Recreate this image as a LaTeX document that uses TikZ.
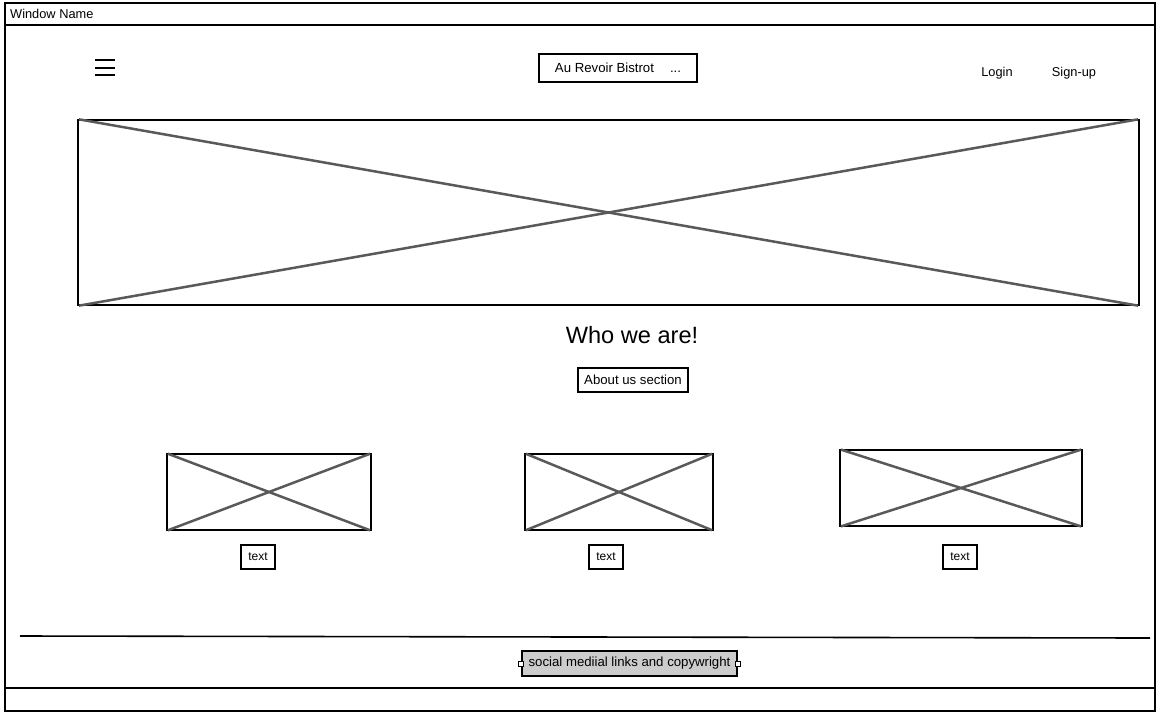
\documentclass[tikz,border=0pt]{standalone}
\usepackage{fontspec}
\setmainfont{Liberation Sans}
\definecolor{xgray}{HTML}{595959}
\definecolor{footfill}{HTML}{CCCCCC}
\begin{document}
\begin{tikzpicture}[x=1pt,y=-1pt,
  frame/.style={draw=black, line width=2pt},
  box/.style={draw=black, line width=2pt, inner sep=0pt, fill=white, font=\fontsize{13.2}{15}\selectfont},
  img/.style={draw=black, line width=2pt, inner sep=0pt},
  cross/.style={draw=xgray, line width=2.5pt, shorten >=2pt, shorten <=2pt},
  lbl/.style={inner sep=0pt, font=\fontsize{12.8}{15}\selectfont},
  handle/.style={draw=black, fill=white, line width=0.8pt, minimum size=5pt, inner sep=0pt}
]
\useasboundingbox (0,0) rectangle (1164,718);
% window frame
\node[frame, minimum width=1150pt, minimum height=708pt, inner sep=0pt] (win) at (580,357) {};
\coordinate (tbl) at (5,25);
\coordinate (tbr) at (1155,25);
\draw[frame] (tbl) -- (tbr);
\coordinate (bbl) at (5,688);
\coordinate (bbr) at (1155,688);
\draw[frame] (bbl) -- (bbr);
\node[lbl, anchor=west] (wname) at (10,14) {Window Name};
% hamburger
\node[minimum width=20pt, minimum height=15pt, inner sep=0pt] (ham) at (105,67.5) {};
\draw[line width=2pt] (ham.north west) -- (ham.north east);
\draw[line width=2pt] (ham.west) -- (ham.east);
\draw[line width=2pt] (ham.south west) -- (ham.south east);
% title
\node[box, minimum width=158pt, minimum height=28pt] (title) at (618,68) {Au Revoir Bistrot\hspace{16pt}...};
\node[lbl] (login) at (997,73) {Login};
\node[lbl] (signup) at (1074,73) {Sign-up};
% hero image
\node[img, minimum width=1061pt, minimum height=185pt] (hero) at (608.5,212.5) {};
\draw[cross] (hero.north west) -- (hero.south east);
\draw[cross] (hero.south west) -- (hero.north east);
% who we are
\node[inner sep=0pt, font=\fontsize{23.6}{28}\selectfont] (who) at (632,335) {Who we are!};
\node[box, minimum width=110pt, minimum height=24pt] (about) at (633,380) {About us section};
% small images
\node[img, minimum width=204pt, minimum height=76pt] (im1) at (269,492) {};
\draw[cross] (im1.north west) -- (im1.south east);
\draw[cross] (im1.south west) -- (im1.north east);
\node[img, minimum width=188pt, minimum height=76pt] (im2) at (619,492) {};
\draw[cross] (im2.north west) -- (im2.south east);
\draw[cross] (im2.south west) -- (im2.north east);
\node[img, minimum width=242pt, minimum height=76pt] (im3) at (961,488) {};
\draw[cross] (im3.north west) -- (im3.south east);
\draw[cross] (im3.south west) -- (im3.north east);
% captions
\node[box, font=\fontsize{12}{14}\selectfont, minimum width=34pt, minimum height=24pt] (t1) at (258,557) {text};
\node[box, font=\fontsize{12}{14}\selectfont, minimum width=34pt, minimum height=24pt] (t2) at (606,557) {text};
\node[box, font=\fontsize{12}{14}\selectfont, minimum width=34pt, minimum height=24pt] (t3) at (960,557) {text};
% footer
\coordinate (fl) at (20,636);
\coordinate (fr) at (1150,638);
\draw[line width=1.6pt] (fl) -- (fr);
\node[box, fill=footfill, minimum width=215pt, minimum height=25pt] (foot) at (629.5,663.5) {social mediial links and copywright};
\node[handle] (h1) at (foot.west) {};
\node[handle] (h2) at (foot.east) {};
\end{tikzpicture}
\end{document}
